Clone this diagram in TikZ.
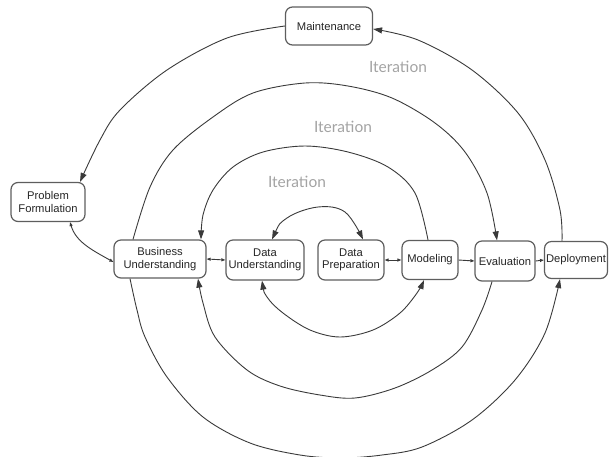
\documentclass[tikz,border=0pt]{standalone}
\usepackage{fontspec}
\setmainfont{Liberation Sans}
\newfontfamily\iterfont{Lato}
\usetikzlibrary{arrows.meta}
\definecolor{boxline}{HTML}{5E5E5E}
\definecolor{curveline}{HTML}{3A3A3A}
\definecolor{itergray}{HTML}{A3A3A3}
\begin{document}
\begin{tikzpicture}[x=1pt,y=-1pt,
  box/.style={draw=boxline, line width=1.2pt, rounded corners=7pt, fill=white,
    align=center, font=\fontsize{11.2}{12.5}\selectfont, text=black!85, inner sep=1pt},
  conn/.style={draw=curveline, line width=0.9pt},
  bigtip/.style={-{Triangle[length=9pt,width=6pt]}},
  bigboth/.style={{Triangle[length=9pt,width=6pt]}-{Triangle[length=9pt,width=6pt]}},
  smalltip/.style={-{Triangle[length=4pt,width=3pt]}},
  smallboth/.style={{Triangle[length=4pt,width=3pt]}-{Triangle[length=4pt,width=3pt]}},
  iterlabel/.style={font=\iterfont\fontsize{15.5}{16}\selectfont, text=itergray}
]
\useasboundingbox (0,0) rectangle (609,456);

% nodes
\node[box, minimum width=87pt, minimum height=38pt] (mnt) at (329,26) {Maintenance};
\node[box, minimum width=74pt, minimum height=39pt] (pf) at (48,202) {Problem\\Formulation};
\node[box, minimum width=92pt, minimum height=38pt] (bu) at (160,259) {Business\\Understanding};
\node[box, minimum width=78pt, minimum height=40pt] (du) at (265,260) {Data\\Understanding};
\node[box, minimum width=66pt, minimum height=40pt] (dp) at (351,260) {Data\\Preparation};
\node[box, minimum width=56pt, minimum height=39pt] (mod) at (430,260) {Modeling};
\node[box, minimum width=60pt, minimum height=40pt] (ev) at (505,261) {Evaluation};
\node[box, minimum width=63pt, minimum height=37pt] (dep) at (576,260) {Deployment};

% iteration labels
\node[iterlabel] (it1) at (398,67) {Iteration};
\node[iterlabel] (it2) at (343,127) {Iteration};
\node[iterlabel] (it3) at (297,182) {Iteration};

% outer ring
\draw[conn, bigtip] plot[smooth, tension=0.55] coordinates {
  (mnt.west) (227,38) (167,70) (120,110) (100,140) ([xshift=32pt]pf.north)};
\draw[conn, bigtip] plot[smooth, tension=0.55] coordinates {
  ([xshift=-14pt]dep.north) (560,210) (545,160) (518,113) (472,70) (418,40) ([yshift=-3pt]mnt.east)};
\draw[conn, bigtip] plot[smooth, tension=0.55] coordinates {
  ([xshift=-30pt]bu.south) (137,310) (145,337) (167,377) (203,417) (250,443) (300,455) (341,458)
  (382,455) (422,447) (472,420) (515,380) (545,333) ([xshift=-16pt]dep.south)};

% middle ring
\draw[conn, bigtip] plot[smooth, tension=0.55] coordinates {
  ([xshift=-27pt]bu.north) (150,187) (173,150) (213,117) (253,93) (305,83) (348,86)
  (392,98) (435,123) (465,152) (487,193) ([xshift=-8pt]ev.north)};
\draw[conn, bigtip] plot[smooth, tension=0.55] coordinates {
  ([xshift=-13pt]ev.south) (482,310) (462,347) (432,370) (395,388) (355,398) (320,395)
  (280,386) (247,370) (215,337) (203,303) ([xshift=38pt]bu.south)};

% inner ring
\draw[conn, bigtip] plot[smooth, tension=0.55] coordinates {
  ([xshift=-2pt]mod.north) (415,193) (388,167) (348,152) (305,146) (263,152) (233,167)
  (213,190) (203,215) ([xshift=41pt]bu.north)};
\draw[conn, bigboth] plot[smooth, tension=0.55] coordinates {
  ([xshift=-3pt]du.south) (267,297) (283,313) (310,330) (340,337) (373,330) (400,313)
  (417,293) ([xshift=-6pt]mod.south)};
\draw[conn, bigboth] plot[smooth, tension=0.6] coordinates {
  ([xshift=7pt]du.north) (287,218) (318,207) (345,212) ([xshift=12pt]dp.north)};

% short links
\draw[conn, smallboth] ([xshift=22pt]pf.south) .. controls (76,242) and (92,250) .. ([yshift=-3pt]bu.west);
\draw[conn, smallboth] (bu.east) -- (du.west);
\draw[conn, smallboth] (dp.east) -- (mod.west);
\draw[conn, smalltip] (mod.east) -- (ev.west);
\draw[conn, smalltip] (ev.east) -- (dep.west);
\end{tikzpicture}
\end{document}
